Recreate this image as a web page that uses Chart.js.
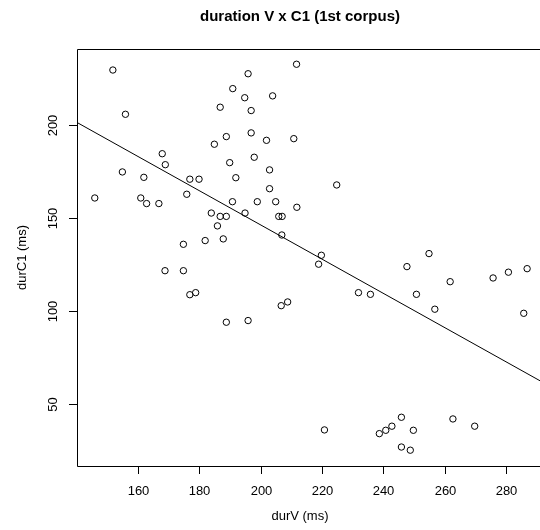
<!DOCTYPE html>
<html>
<head>
<meta charset="utf-8">
<script src="https://cdn.jsdelivr.net/npm/chart.js@4"></script>
<style>
html,body{margin:0;padding:0;background:#fff;}
#wrap{width:540px;height:530px;position:relative;}
</style>
</head>
<body>
<div id="wrap"><canvas id="c" width="540" height="530"></canvas></div>
<script>
const chartTitle = "duration V x C1 (1st corpus)";
const xTitle = "durV (ms)";
const yTitle = "durC1 (ms)";
const xTicks = [160, 180, 200, 220, 240, 260, 280];
const yTicks = [50, 100, 150, 200];
const durV = [151.8,155.9,145.9,154.9,167.9,168.9,161.9,160.9,162.8,166.8,176.9,179.9,175.9,174.8,181.9,187.8,183.9,186.8,188.8,185.9,190.8,194.9,191.9,189.9,184.9,188.8,186.8,190.9,194.8,195.9,196.9,196.9,197.9,201.9,203.9,202.9,202.9,198.9,204.9,205.9,207.0,206.9,211.7,210.8,211.8,168.8,174.8,176.9,178.8,188.8,195.9,206.7,208.8,224.8,219.8,218.9,254.9,247.7,261.8,275.8,280.8,286.9,285.8,231.9,235.8,250.8,256.8,220.8,238.7,240.8,242.8,245.9,249.8,245.9,248.8,262.7,269.8];
const durC1 = [229.7,205.9,160.9,174.9,184.7,178.8,172.0,160.9,157.9,157.9,171.0,171.0,162.9,136.0,138.0,138.9,152.8,151.0,151.0,145.9,158.9,152.8,171.8,179.9,189.8,193.9,209.7,219.7,214.8,227.7,207.9,195.9,182.8,191.9,215.8,176.0,165.9,158.9,158.9,151.0,151.0,141.0,232.8,192.8,155.9,121.8,121.8,108.9,110.0,94.1,95.0,103.0,105.0,167.9,130.1,125.3,131.0,124.0,115.9,117.9,121.0,122.9,98.9,110.0,109.1,109.1,101.1,36.2,34.2,36.0,38.2,43.0,36.0,27.0,25.3,42.1,38.2];
const fitX = [140, 292];
const fitY = [201.6, 61.8];

const points = durV.map((v, i) => ({x: v, y: durC1[i]}));
const fitLine = fitX.map((v, i) => ({x: v, y: fitY[i]}));

const FONT = "'Liberation Sans', Arial, Helvetica, sans-serif";

const decor = {
  id: 'decor',
  afterDraw(chart) {
    const {ctx, chartArea: a, scales} = chart;
    ctx.save();
    ctx.strokeStyle = '#000';
    ctx.lineWidth = 1;
    ctx.beginPath();
    ctx.moveTo(a.right + 5, Math.round(a.top) + 0.5);
    ctx.lineTo(Math.round(a.left) + 0.5, Math.round(a.top) + 0.5);
    ctx.lineTo(Math.round(a.left) + 0.5, Math.round(a.bottom) + 0.5);
    ctx.lineTo(a.right + 5, Math.round(a.bottom) + 0.5);
    ctx.stroke();
    ctx.fillStyle = '#000';
    ctx.font = '13px ' + FONT;
    ctx.textAlign = 'center';
    ctx.textBaseline = 'middle';
    yTicks.forEach(t => {
      const py = Math.round(scales.y.getPixelForValue(t)) + 0.5;
      ctx.beginPath();
      ctx.moveTo(a.left - 8, py);
      ctx.lineTo(a.left, py);
      ctx.stroke();
      ctx.save();
      ctx.translate(53.5, py);
      ctx.rotate(-Math.PI / 2);
      ctx.fillText(String(t), 0, 0);
      ctx.restore();
    });
    xTicks.forEach(t => {
      const px = Math.round(scales.x.getPixelForValue(t)) + 0.5;
      ctx.beginPath();
      ctx.moveTo(px, a.bottom);
      ctx.lineTo(px, a.bottom + 8);
      ctx.stroke();
      ctx.fillText(String(t), px, 491);
    });
    ctx.fillText(xTitle, 300, 516);
    ctx.save();
    ctx.translate(22, 257.5);
    ctx.rotate(-Math.PI / 2);
    ctx.fillText(yTitle, 0, 0);
    ctx.restore();
    ctx.font = 'bold 15px ' + FONT;
    ctx.fillText(chartTitle, 300, 17);
    ctx.restore();
  }
};

new Chart(document.getElementById('c'), {
  type: 'scatter',
  data: {
    datasets: [
      {
        data: points,
        showLine: false,
        pointStyle: 'circle',
        pointRadius: 3.2,
        pointBorderWidth: 1,
        pointBorderColor: '#000',
        pointBackgroundColor: 'rgba(0,0,0,0)',
        pointHoverRadius: 3.2,
        clip: false
      },
      {
        type: 'line',
        data: fitLine,
        borderColor: '#000',
        borderWidth: 1,
        pointRadius: 0,
        fill: false
      }
    ]
  },
  plugins: [decor],
  options: {
    responsive: false,
    animation: false,
    events: [],
    layout: {autoPadding: false, padding: {top: 49, left: 0, right: 0, bottom: 0}},
    plugins: {legend: {display: false}, title: {display: false}, tooltip: {enabled: false}},
    scales: {
      x: {
        type: 'linear',
        min: 140.1, max: 291.1,
        grid: {display: false},
        border: {display: false},
        ticks: {display: false},
        afterFit: s => { s.height = 64; }
      },
      y: {
        type: 'linear',
        min: 16.8, max: 241,
        grid: {display: false},
        border: {display: false},
        ticks: {display: false},
        afterFit: s => { s.width = 77; }
      }
    }
  }
});
</script>
</body>
</html>
